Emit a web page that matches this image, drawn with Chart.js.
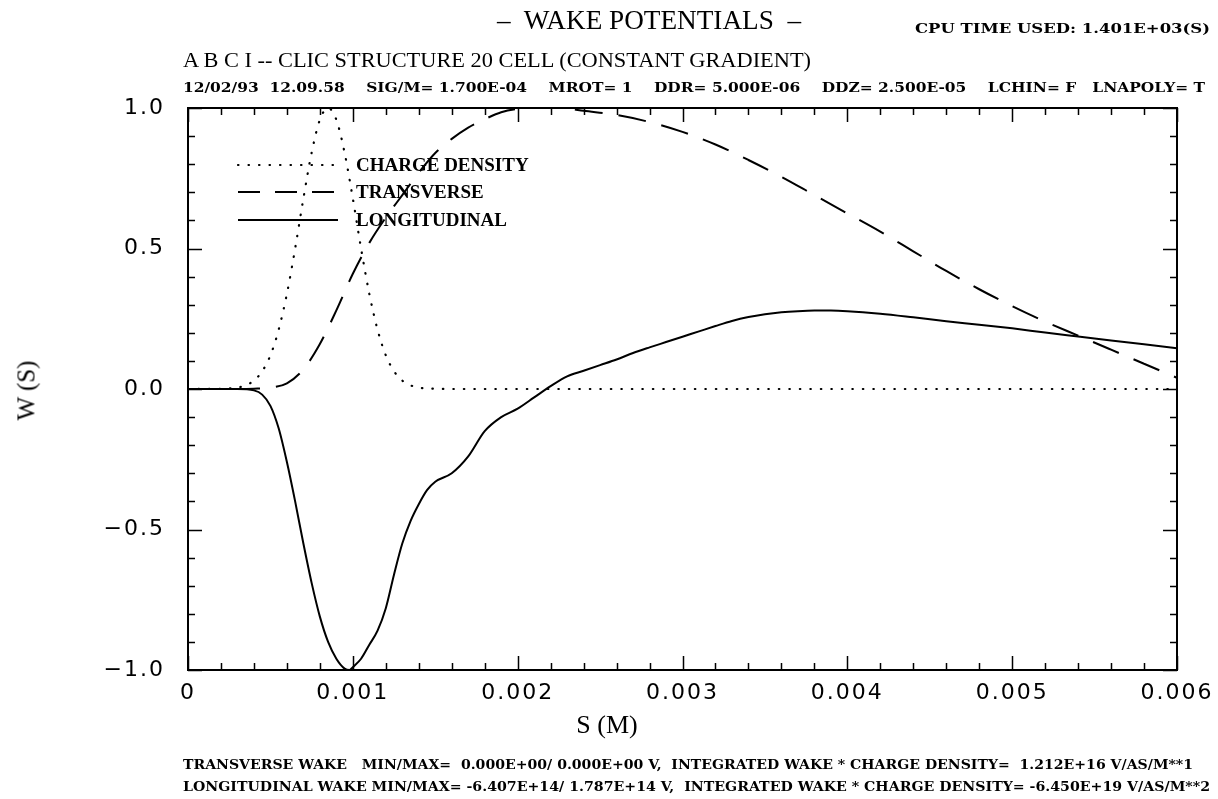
<!DOCTYPE html>
<html>
<head>
<meta charset="utf-8">
<script src="https://cdn.jsdelivr.net/npm/chart.js@4.4.0/dist/chart.umd.min.js"></script>
<style>
  html, body { margin: 0; padding: 0; background: #fff; }
  #wrap { position: relative; width: 1218px; height: 799px; overflow: hidden; background: #fff; }
  #plot { position: absolute; left: 0; top: 0; }
  .txt { position: absolute; white-space: pre; color: #000; line-height: 1; transform-origin: 0 50%; }
  .serif { font-family: "Liberation Serif", "DejaVu Serif", serif; }
  .heavy { font-family: "DejaVu Serif", serif; font-weight: bold; }
  .vert { transform-origin: 50% 50%; }
</style>
</head>
<body>
<div id="wrap">
  <canvas id="plot" width="1218" height="799"></canvas>

  <div class="txt serif" data-x="497" data-y="20" data-w="304" style="font-size:28px">–  WAKE POTENTIALS  –</div>
  <div class="txt heavy" data-x="915" data-y="28" data-w="295" style="font-size:13px">CPU TIME USED: 1.401E+03(S)</div>
  <div class="txt serif" data-x="183" data-y="60" data-w="628" style="font-size:20px">A B C I -- CLIC STRUCTURE 20 CELL (CONSTANT GRADIENT)</div>
  <div class="txt heavy" data-x="183" data-y="87" data-w="1022" style="font-size:13px">12/02/93  12.09.58    SIG/M= 1.700E-04    MROT= 1    DDR= 5.000E-06    DDZ= 2.500E-05    LCHIN= F   LNAPOLY= T</div>

  <div class="txt serif" data-cx="607" data-y="725" style="font-size:26px">S (M)</div>
  <div class="txt serif vert" data-cx="26" data-y="390" data-rot="1" style="font-size:25px">W (S)</div>

  <div class="txt heavy" data-x="183" data-y="765" data-w="1010" style="font-size:12px">TRANSVERSE WAKE   MIN/MAX=  0.000E+00/ 0.000E+00 V,  INTEGRATED WAKE * CHARGE DENSITY=  1.212E+16 V/AS/M**1</div>
  <div class="txt heavy" data-x="183" data-y="787" data-w="1027" style="font-size:12px">LONGITUDINAL WAKE MIN/MAX= -6.407E+14/ 1.787E+14 V,  INTEGRATED WAKE * CHARGE DENSITY= -6.450E+19 V/AS/M**2</div>
</div>

<script>
// bunch charge density (normalised), dotted
const chargeS = [0, 0.0002, 0.00025, 0.0003, 0.00035, 0.0004, 0.00045, 0.0005, 0.00055, 0.0006,
  0.00065, 0.0007, 0.00075, 0.0008, 0.00085, 0.0009, 0.00095, 0.001, 0.00105, 0.0011,
  0.00115, 0.0012, 0.00125, 0.0013, 0.00135, 0.0014, 0.00145, 0.0015, 0.0016, 0.006];
const chargeW = [0, 0.001, 0.002, 0.005, 0.013, 0.03, 0.063, 0.12, 0.211, 0.339,
  0.5, 0.678, 0.841, 0.958, 1.0, 0.958, 0.841, 0.678, 0.5, 0.339,
  0.211, 0.12, 0.063, 0.03, 0.013, 0.005, 0.002, 0.001, 0, 0];

// transverse wake (normalised), dashed
const transS = [0, 0.0003, 0.0004, 0.0005, 0.0006, 0.0007, 0.0008, 0.0009, 0.001, 0.0011,
  0.0012, 0.0013, 0.0014, 0.0015, 0.0016, 0.0017, 0.0018, 0.0019, 0.002, 0.0021,
  0.0022, 0.0023, 0.0024, 0.0026, 0.0028, 0.003, 0.0032, 0.0034, 0.0036, 0.0038,
  0.004, 0.0042, 0.0044, 0.0046, 0.0048, 0.005, 0.0052, 0.0054, 0.0056, 0.0058, 0.006];
const transW = [0, 0, 0.001, 0.005, 0.02, 0.07, 0.16, 0.28, 0.41, 0.52,
  0.61, 0.69, 0.77, 0.84, 0.89, 0.93, 0.96, 0.985, 0.997, 1.0,
  1.0, 0.998, 0.99, 0.975, 0.95, 0.915, 0.87, 0.815, 0.755, 0.69,
  0.625, 0.56, 0.49, 0.42, 0.355, 0.295, 0.24, 0.19, 0.14, 0.09, 0.04];

// longitudinal wake (normalised to the minimum), solid
const longS = [0, 0.0003, 0.0004, 0.00045, 0.0005, 0.00055, 0.0006, 0.00065, 0.0007, 0.00075,
  0.0008, 0.00085, 0.0009, 0.00095, 0.00098, 0.001, 0.00105, 0.0011, 0.00115, 0.0012,
  0.00125, 0.0013, 0.00135, 0.0014, 0.00145, 0.0015, 0.0016, 0.0017, 0.0018, 0.0019,
  0.002, 0.0021, 0.0022, 0.0023, 0.0024, 0.0025, 0.0026, 0.0027, 0.0028, 0.0029,
  0.003, 0.0031, 0.0032, 0.0033, 0.0034, 0.0035, 0.0036, 0.0037, 0.0038, 0.0039,
  0.004, 0.0042, 0.0044, 0.0046, 0.0048, 0.005, 0.0052, 0.0054, 0.0056, 0.0058, 0.006];
const longW = [0, 0, -0.005, -0.02, -0.06, -0.14, -0.26, -0.4, -0.55, -0.69,
  -0.81, -0.9, -0.96, -0.995, -1.0, -0.99, -0.96, -0.91, -0.86, -0.78,
  -0.66, -0.55, -0.47, -0.41, -0.36, -0.33, -0.30, -0.24, -0.15, -0.10,
  -0.07, -0.03, 0.01, 0.045, 0.065, 0.085, 0.105, 0.128, 0.148, 0.167,
  0.186, 0.205, 0.224, 0.242, 0.256, 0.266, 0.273, 0.277, 0.279, 0.279,
  0.277, 0.268, 0.255, 0.241, 0.229, 0.216, 0.201, 0.187, 0.173, 0.159, 0.145];

const seriesNames = ['CHARGE DENSITY', 'TRANSVERSE', 'LONGITUDINAL'];
const xTickLabels = ['0', '0.001', '0.002', '0.003', '0.004', '0.005', '0.006'];
const yTickLabels = ['\u22121.0', '\u22120.5', '0.0', '0.5', '1.0'];

const pts = (xs, ys) => xs.map((x, i) => ({ x: x, y: ys[i] }));

// inward tick marks on all four sides plus the box
const framePlugin = {
  id: 'frame',
  afterDatasetsDraw(chart) {
    const { ctx, chartArea: a } = chart;
    const sx = chart.scales.x, sy = chart.scales.y;
    ctx.save();
    ctx.strokeStyle = '#000';
    ctx.lineWidth = 2;
    ctx.setLineDash([]);
    ctx.strokeRect(a.left, a.top, a.right - a.left, a.bottom - a.top);
    ctx.beginPath();
    for (let i = 0; i <= 30; i++) {
      const px = Math.round(sx.getPixelForValue(i * 0.0002)) + 0.5;
      const len = i % 5 === 0 ? 14 : 7;
      ctx.moveTo(px, a.bottom); ctx.lineTo(px, a.bottom - len);
      ctx.moveTo(px, a.top); ctx.lineTo(px, a.top + len);
    }
    for (let i = 0; i <= 20; i++) {
      const py = Math.round(sy.getPixelForValue(-1 + i * 0.1)) + 0.5;
      const len = i % 5 === 0 ? 14 : 7;
      ctx.moveTo(a.left, py); ctx.lineTo(a.left + len, py);
      ctx.moveTo(a.right, py); ctx.lineTo(a.right - len, py);
    }
    ctx.lineWidth = 1.5;
    ctx.stroke();
    ctx.restore();
  }
};

// legend drawn inside the plot, line samples use each dataset's own dash
const legendPlugin = {
  id: 'inlineLegend',
  afterDatasetsDraw(chart) {
    const ctx = chart.ctx;
    const rows = [165, 192, 220];
    ctx.save();
    ctx.letterSpacing = '0px';
    chart.data.datasets.forEach((ds, i) => {
      const y = rows[i];
      ctx.strokeStyle = ds.borderColor;
      ctx.lineWidth = ds.borderWidth;
      ctx.lineCap = ds.borderCapStyle || 'butt';
      ctx.setLineDash(ds.legendDash || ds.borderDash || []);
      ctx.beginPath();
      ctx.moveTo(238, y); ctx.lineTo(338, y);
      ctx.stroke();
      ctx.fillStyle = '#000';
      ctx.font = 'bold 19px "Liberation Serif", "DejaVu Serif", serif';
      ctx.textBaseline = 'middle';
      ctx.fillText(ds.label, 356, y + 1);
    });
    ctx.restore();
  }
};

// wider spacing for the tick numbers
const spacingPlugin = {
  id: 'tickSpacing',
  beforeDraw(chart) { chart.ctx.letterSpacing = '2px'; },
  beforeDatasetsDraw(chart) { chart.ctx.letterSpacing = '0px'; }
};

const tickFont = { family: '"DejaVu Sans", sans-serif', size: 22 };

new Chart(document.getElementById('plot'), {
  type: 'line',
  data: {
    datasets: [
      {
        label: seriesNames[0], data: pts(chargeS, chargeW),
        borderColor: '#000', borderWidth: 2.2, borderDash: [0.5, 10], borderCapStyle: 'round',
        pointRadius: 0, cubicInterpolationMode: 'monotone'
      },
      {
        label: seriesNames[1], data: pts(transS, transW),
        borderColor: '#000', borderWidth: 2, borderDash: [28, 16], legendDash: [22, 15],
        pointRadius: 0, cubicInterpolationMode: 'monotone'
      },
      {
        label: seriesNames[2], data: pts(longS, longW),
        borderColor: '#000', borderWidth: 2,
        pointRadius: 0, cubicInterpolationMode: 'monotone'
      }
    ]
  },
  options: {
    responsive: false,
    animation: false,
    layout: { padding: { left: 0, top: 108, right: 41, bottom: 0 } },
    plugins: { legend: { display: false }, title: { display: false }, tooltip: { enabled: false } },
    scales: {
      x: {
        type: 'linear', min: 0, max: 0.006,
        grid: { display: false, drawTicks: false }, border: { display: false },
        ticks: {
          stepSize: 0.001, padding: 10, color: '#000', font: tickFont,
          maxRotation: 0, autoSkip: false,
          callback: (v, i) => xTickLabels[i]
        },
        afterFit: s => { s.height = 129; s.paddingLeft = 0; s.paddingRight = 0; }
      },
      y: {
        type: 'linear', min: -1, max: 1,
        grid: { display: false, drawTicks: false }, border: { display: false },
        ticks: {
          stepSize: 0.5, padding: 23, color: '#000', font: tickFont,
          callback: (v, i) => yTickLabels[i]
        },
        afterFit: s => { s.width = 188; s.paddingTop = 0; s.paddingBottom = 0; }
      }
    }
  },
  plugins: [spacingPlugin, framePlugin, legendPlugin]
});

// place the header / footer strings and stretch them to their line widths
document.querySelectorAll('.txt').forEach(el => {
  const r = el.getBoundingClientRect();
  const w = r.width, h = r.height;
  const y = parseFloat(el.dataset.y);
  el.style.top = (y - h / 2) + 'px';
  if (el.dataset.rot) {
    const cx = parseFloat(el.dataset.cx);
    el.style.left = (cx - w / 2) + 'px';
    el.style.transform = 'rotate(-90deg)';
  } else if (el.dataset.cx) {
    el.style.left = (parseFloat(el.dataset.cx) - w / 2) + 'px';
  } else {
    el.style.left = el.dataset.x + 'px';
    if (el.dataset.w) el.style.transform = 'scaleX(' + (parseFloat(el.dataset.w) / w) + ')';
  }
});
</script>
</body>
</html>
